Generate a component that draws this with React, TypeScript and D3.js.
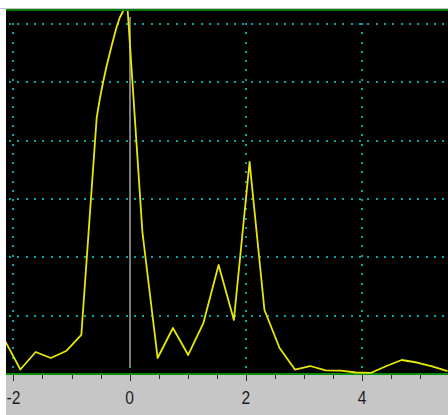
import React from 'react';
import * as d3 from 'd3';

const W = 448;
const H = 415;

// Trace samples (x in axis units, y in grid units)
const traceX = [
  -2.143, -1.88, -1.617, -1.355, -1.092, -0.831, -0.567, -0.516, -0.456, -0.396,
  -0.306, -0.224, -0.172, -0.12, -0.043, 0.22, 0.482, 0.745, 1.008, 1.269,
  1.531, 1.794, 2.064, 2.32, 2.58, 2.844, 3.107, 3.371, 3.632, 3.895,
  4.157, 4.42, 4.681, 4.944, 5.207, 5.469,
];
const traceY = [
  0.566, 0.077, 0.377, 0.274, 0.394, 0.669, 4.389, 4.697, 5.006, 5.28,
  5.64, 5.949, 6.103, 6.206, 6.377, 2.434, 0.274, 0.789, 0.326, 0.874,
  1.869, 0.926, 3.634, 1.097, 0.446, 0.077, 0.137, 0.063, 0.057, 0.026,
  0.021, 0.137, 0.24, 0.197, 0.129, 0.051,
];

const labelTicks = [-2, 0, 2, 4];
const labelTexts = ['-2', '0', '2', '4'];
const minorTicks = [-2, -1.5, -1, -0.5, 0, 0.5, 1, 1.5, 2, 2.5, 3, 3.5, 4, 4.5, 5];
const gridRows = [1, 2, 3, 4, 5, 6];
const gridCols = [-2, 0, 2, 4];
const cursorAt = 0;

export default function App() {
  const left = 6;
  const right = 448;
  const top = 10;
  const bottom = 374;

  const x = d3.scaleLinear().domain([-2.127, 5.478]).range([left, right]);
  const y = d3.scaleLinear().domain([0, 6]).range([bottom, 24]);

  const path = d3
    .line<number>()
    .x((_, i) => x(traceX[i]))
    .y((d) => y(d))(traceY) as string;

  return (
    <svg
      width={W}
      height={H}
      style={{ position: 'absolute', left: 0, top: 0, display: 'block' }}
      shapeRendering="crispEdges"
    >
      <defs>
        <clipPath id="plot">
          <rect x={left} y={top + 1} width={right - left} height={bottom - top + 1} />
        </clipPath>
        <clipPath id="axis">
          <rect x={left} y={bottom} width={right - left} height={H - bottom} />
        </clipPath>
      </defs>
      <rect x={0} y={0} width={W} height={H} fill="#ffffff" />
      {/* top frame */}
      <line x1={0} x2={W} y1={8.5} y2={8.5} stroke="#c4c4c4" strokeWidth={1} />
      {/* plot area */}
      <rect x={left} y={top} width={right - left} height={bottom - top} fill="#000000" />
      {/* axis strip */}
      <rect x={left} y={bottom + 1} width={right - left} height={H - bottom - 1} fill="#c6c6c6" />

      {/* dotted grid */}
      <g clipPath="url(#plot)">
        {gridRows.map((r) => (
          <line
            key={'r' + r}
            x1={9}
            x2={right}
            y1={Math.round(y(r))}
            y2={Math.round(y(r))}
            stroke="#00a6a6"
            strokeWidth={2}
            strokeDasharray="2 6.33"
          />
        ))}
        {gridCols.map((c) => (
          <line
            key={'c' + c}
            x1={Math.round(x(c))}
            x2={Math.round(x(c))}
            y1={y(6) - 1}
            y2={bottom - 4}
            stroke="#00a6a6"
            strokeWidth={2}
            strokeDasharray="2 7.27"
          />
        ))}
        {/* cursor */}
        <line
          x1={x(cursorAt)}
          x2={x(cursorAt)}
          y1={top + 7}
          y2={bottom - 7}
          stroke="#7a7a7a"
          strokeWidth={1.8}
        />
      </g>

      {/* frame lines */}
      <line x1={left} x2={right} y1={top} y2={top} stroke="#0a7a0a" strokeWidth={2} />
      <line x1={left} x2={right} y1={bottom} y2={bottom} stroke="#0a8c0a" strokeWidth={2} />

      {/* trace */}
      <g clipPath="url(#plot)">
        <path
          d={path}
          fill="none"
          stroke="#e8e800"
          strokeWidth={1.8}
          strokeLinejoin="round"
          shapeRendering="auto"
        />
      </g>

      {/* x axis ticks and labels */}
      <g clipPath="url(#axis)">
        {minorTicks.map((t) => {
          const major = labelTicks.includes(t);
          return (
            <line
              key={'t' + t}
              x1={Math.round(x(t)) + 0.5}
              x2={Math.round(x(t)) + 0.5}
              y1={bottom + 1}
              y2={bottom + (major ? 7 : 5)}
              stroke="#303030"
              strokeWidth={1}
            />
          );
        })}
        {labelTicks.map((t, i) => (
          <text
            key={'l' + t}
            transform={`translate(${x(t)},404) scale(0.82,1)`}
            textAnchor="middle"
            fontFamily="'Liberation Sans', Arial, sans-serif"
            fontSize={19}
            fill="#1c1c24"
          >
            {labelTexts[i]}
          </text>
        ))}
      </g>
    </svg>
  );
}
